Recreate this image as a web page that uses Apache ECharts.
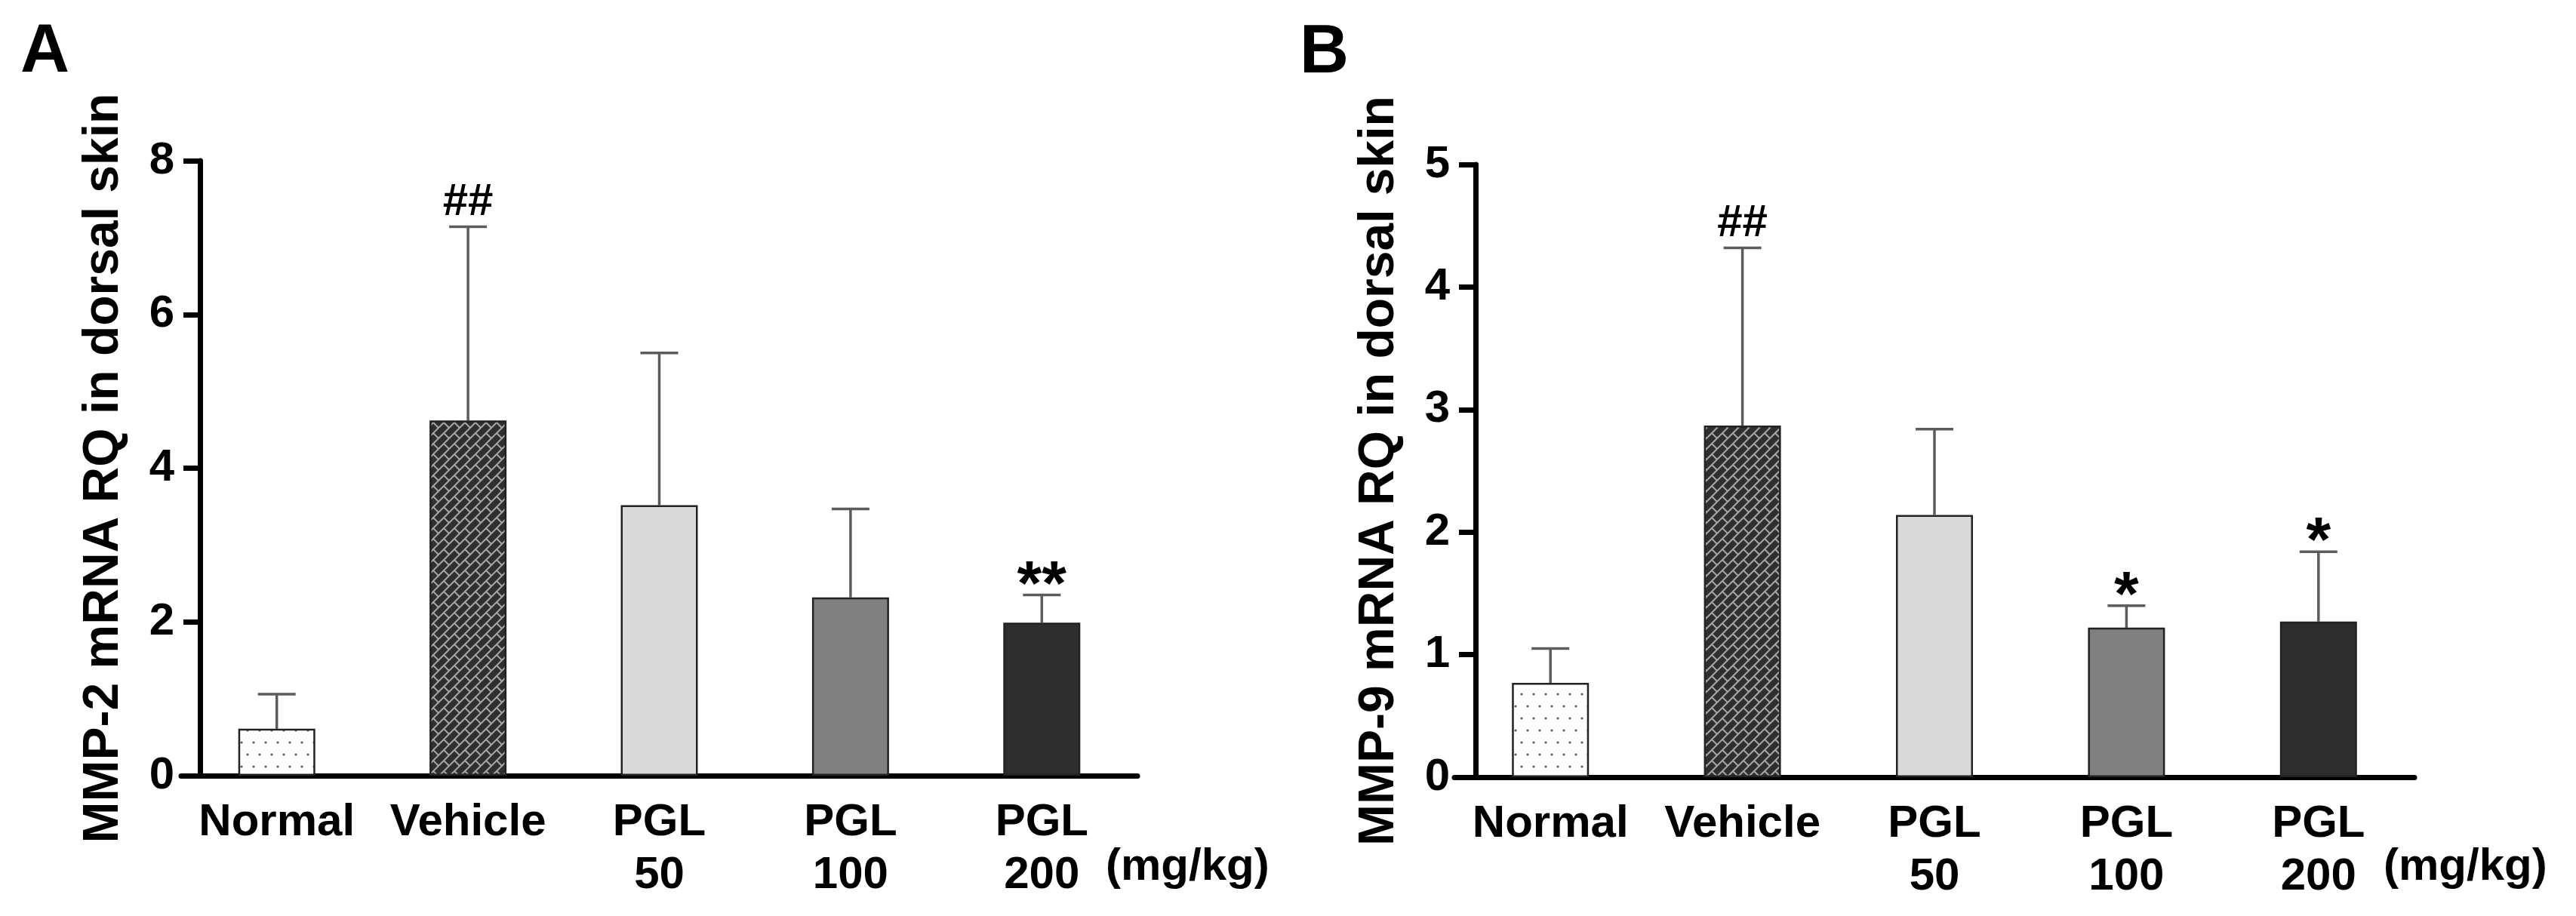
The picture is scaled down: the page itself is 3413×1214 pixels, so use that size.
<!DOCTYPE html>
<html>
<head>
<meta charset="utf-8">
<script src="https://cdn.jsdelivr.net/npm/echarts@6/dist/echarts.min.js"></script>
<style>
  html, body { margin: 0; padding: 0; background: #fff; }
  #chart { width: 3413px; height: 1214px; }
</style>
</head>
<body>
<div id="chart"></div>
<script>
// groups on the x axis
var groups = ['Normal', 'Vehicle', 'PGL\n50', 'PGL\n100', 'PGL\n200'];

// panel A: MMP-2
var mmp2Mean = [0.61, 4.62, 3.52, 2.32, 1.99];
var mmp2Sd   = [0.45, 2.52, 1.98, 1.15, 0.36];
var mmp2Sig  = ['', '##', '', '', '**'];
var mmp2Max = 8, mmp2Step = 2;

// panel B: MMP-9
var mmp9Mean = [0.77, 2.87, 2.14, 1.22, 1.27];
var mmp9Sd   = [0.28, 1.45, 0.70, 0.18, 0.57];
var mmp9Sig  = ['', '##', '', '*', '*'];
var mmp9Max = 5, mmp9Step = 1;

var FONT = "'Liberation Sans', Arial, sans-serif";

// dotted fill for Normal
function dotPattern() {
  var c = document.createElement('canvas');
  c.width = 16; c.height = 32;
  var g = c.getContext('2d');
  g.fillStyle = '#fff';
  g.fillRect(0, 0, 16, 32);
  g.fillStyle = '#5a5a5a';
  [[8, 8], [0, 24], [16, 24]].forEach(function (p) {
    g.beginPath();
    g.arc(p[0], p[1], 1.6, 0, Math.PI * 2);
    g.fill();
  });
  return c;
}

// diagonal brick fill for Vehicle (seamless tile)
function brickPattern() {
  var L = 28;
  var H = L / (2 * Math.SQRT2), B = 2 * H;
  var c = document.createElement('canvas');
  c.width = L; c.height = L;
  var g = c.getContext('2d');
  g.fillStyle = '#2f2f2f';
  g.fillRect(0, 0, L, L);
  g.strokeStyle = '#a5a5a5';
  g.lineWidth = 2;
  g.translate(L / 2, L / 2);
  g.rotate(-Math.PI / 4);
  for (var j = -8; j <= 8; j++) {
    g.beginPath();
    g.moveTo(-80, j * H);
    g.lineTo(80, j * H);
    g.stroke();
    var off = (((j % 2) + 2) % 2) * B / 2;
    for (var i = -8; i <= 8; i++) {
      var u = i * B + off;
      g.beginPath();
      g.moveTo(u, j * H);
      g.lineTo(u, (j + 1) * H);
      g.stroke();
    }
  }
  return c;
}

var fills = [
  { image: dotPattern(), repeat: 'repeat' },
  { image: brickPattern(), repeat: 'repeat' },
  '#d9d9d9',
  '#808080',
  '#2e2e2e'
];

function barData(mean) {
  return mean.map(function (v, i) {
    return { value: v, itemStyle: { color: fills[i] } };
  });
}

function errData(mean, sd) {
  return mean.map(function (v, i) { return [i, v, sd[i]]; });
}

function errRender(sig) {
  return function (params, api) {
    var i = api.value(0);
    var m = api.value(1);
    var s = api.value(2);
    var p0 = api.coord([i, m]);
    var p1 = api.coord([i, m + s]);
    var mark = sig[i];
    var star = mark.indexOf('*') >= 0;
    var dy = star ? 32 : -2;
    var size = star ? 84 : 60;
    var lineStyle = { stroke: '#5c5c5c', lineWidth: 3.5 };
    return {
      type: 'group',
      children: [
        { type: 'line', shape: { x1: p0[0], y1: p0[1], x2: p1[0], y2: p1[1] }, style: lineStyle },
        { type: 'line', shape: { x1: p1[0] - 25, y1: p1[1], x2: p1[0] + 25, y2: p1[1] }, style: lineStyle },
        { type: 'text', x: p1[0], y: p1[1] + dy,
          style: { text: mark, align: 'center', verticalAlign: 'bottom',
                   font: 'bold ' + size + 'px ' + FONT, fill: '#000' } }
      ]
    };
  };
}

function xAxisCfg(gi) {
  return {
    type: 'category',
    gridIndex: gi,
    data: groups,
    axisLine: { lineStyle: { color: '#000', width: 7 } },
    axisTick: { alignWithLabel: true, length: 20, lineStyle: { color: '#000', width: 7 } },
    axisLabel: { color: '#000', fontFamily: FONT, fontWeight: 'bold', fontSize: 60,
                 lineHeight: 70, margin: 27, interval: 0 },
    splitLine: { show: false }
  };
}

function yAxisCfg(gi, max, step, name, off) {
  return {
    type: 'value',
    gridIndex: gi,
    min: 0,
    max: max,
    interval: step,
    offset: off,
    name: name,
    nameLocation: 'middle',
    nameRotate: 90,
    nameGap: 94,
    nameTextStyle: { color: '#000', fontFamily: FONT, fontWeight: 'bold', fontSize: 66 },
    axisLine: { show: true, lineStyle: { color: '#000', width: 7 } },
    axisTick: { show: true, length: 22, lineStyle: { color: '#000', width: 7 } },
    axisLabel: { color: '#000', fontFamily: FONT, fontWeight: 'bold', fontSize: 60, margin: 34 },
    splitLine: { show: false }
  };
}

var chart = echarts.init(document.getElementById('chart'));

var option = {
  backgroundColor: '#fff',
  animation: false,
  grid: [
    { left: 240, top: 213, width: 1267, height: 815 },
    { left: 1927, top: 218, width: 1272, height: 812 }
  ],
  xAxis: [xAxisCfg(0), xAxisCfg(1)],
  yAxis: [
    yAxisCfg(0, mmp2Max, mmp2Step, 'MMP-2 mRNA RQ in dorsal skin', -25),
    yAxisCfg(1, mmp9Max, mmp9Step, 'MMP-9 mRNA RQ in dorsal skin', -28)
  ],
  graphic: [
    { type: 'text', left: 27, top: 25, style: { text: 'A', font: 'bold 90px ' + FONT, fill: '#000' } },
    { type: 'text', left: 1722, top: 26, style: { text: 'B', font: 'bold 90px ' + FONT, fill: '#000' } },
    { type: 'text', left: 1465, top: 1119, style: { text: '(mg/kg)', font: 'bold 60px ' + FONT, fill: '#000' } },
    { type: 'text', left: 3158, top: 1119, style: { text: '(mg/kg)', font: 'bold 60px ' + FONT, fill: '#000' } }
  ],
  series: [
    {
      type: 'bar', xAxisIndex: 0, yAxisIndex: 0,
      barWidth: 102,
      itemStyle: { borderColor: '#222', borderWidth: 2.5 },
      data: barData(mmp2Mean)
    },
    {
      type: 'custom', xAxisIndex: 0, yAxisIndex: 0,
      renderItem: errRender(mmp2Sig),
      encode: { x: 0, y: 1 },
      z: 1,
      data: errData(mmp2Mean, mmp2Sd)
    },
    {
      type: 'bar', xAxisIndex: 1, yAxisIndex: 1,
      barWidth: 102,
      itemStyle: { borderColor: '#222', borderWidth: 2.5 },
      data: barData(mmp9Mean)
    },
    {
      type: 'custom', xAxisIndex: 1, yAxisIndex: 1,
      renderItem: errRender(mmp9Sig),
      encode: { x: 0, y: 1 },
      z: 1,
      data: errData(mmp9Mean, mmp9Sd)
    }
  ]
};

chart.setOption(option);
</script>
</body>
</html>
